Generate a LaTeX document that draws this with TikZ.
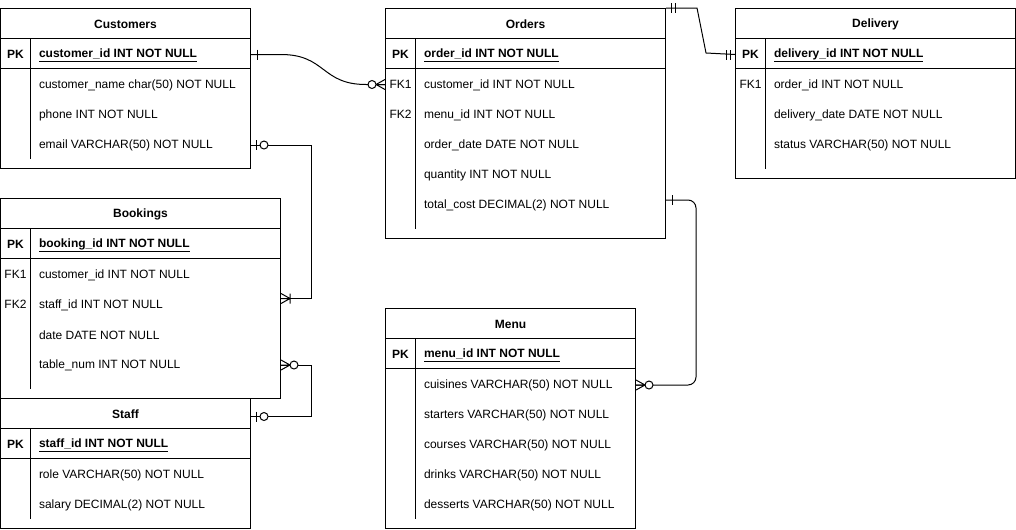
\documentclass[tikz,border=0pt]{standalone}
\usepackage{fontspec}
\setmainfont{Liberation Sans}
\newcommand\pxu{0.75pt}
\newcommand\erfont{\fontsize{9}{11}\selectfont}

\tikzset{
    tbl/.style={draw, rectangle, inner sep=0},
    ttl/.style={font=\erfont\bfseries, yshift=-1*\pxu},
    key/.style={font=\erfont, yshift=-1*\pxu},
    pkey/.style={font=\erfont\bfseries, yshift=-1*\pxu},
    fld/.style={anchor=west, inner sep=0, font=\erfont, yshift=-1.5*\pxu},
    pkfld/.style={fld, font=\erfont\bfseries, yshift=-0.5*\pxu},
    link/.style={draw},
    er one/.pic={\draw (6,-5) -- (6,5);},
    er only one/.pic={\draw (5,-5) -- (5,5) (9,-5) -- (9,5);},
    er zero one/.pic={\draw (5,-5) -- (5,5); \draw[fill=white] (13,0) circle[radius=4];},
    er zero many/.pic={\draw (0,-5) -- (9,0) -- (0,5) (0,0) -- (9,0); \draw[fill=white] (13,0) circle[radius=4];},
    er one many/.pic={\draw (0,-5) -- (9,0) -- (0,5) (0,0) -- (9,0) (9,-5) -- (9,5);}
    }

\begin{document}
\begin{tikzpicture}[x=\pxu, y=-\pxu, line width=\pxu]
    \useasboundingbox (-0.5,-0.5) rectangle (1015.5,528.5);

    % Customers
    \node (cust) [tbl, minimum width=250*\pxu, minimum height=160*\pxu] at (125,88) {};
    \node (cust-t) [ttl] at (125,23) {Customers};
    \draw (0,38) -- (250,38) (0,68) -- (250,68) (30,38) -- (30,158);
    \node (cust-pk-k) [pkey] at (15,53) {PK};
    \node (cust-pk) [pkfld] at (38,53) {\underline{customer\_id INT NOT NULL}};
    \foreach \f [count=\i] in {customer\_name char(50) NOT NULL, phone INT NOT NULL, email VARCHAR(50) NOT NULL}
        \node (cust-\i) [fld] at (38,53+30*\i) {\f};

    % Orders
    \node (ord) [tbl, minimum width=280*\pxu, minimum height=230*\pxu] at (525,123) {};
    \node (ord-t) [ttl] at (525,23) {Orders};
    \draw (385,38) -- (665,38) (385,68) -- (665,68) (415,38) -- (415,228);
    \node (ord-pk-k) [pkey] at (400,53) {PK};
    \node (ord-pk) [pkfld] at (423,53) {\underline{order\_id INT NOT NULL}};
    \node (ord-k1) [key] at (400,83) {FK1};
    \node (ord-k2) [key] at (400,113) {FK2};
    \foreach \f [count=\i] in {customer\_id INT NOT NULL, menu\_id INT NOT NULL, order\_date DATE NOT NULL, quantity INT NOT NULL, total\_cost DECIMAL(2) NOT NULL}
        \node (ord-\i) [fld] at (423,53+30*\i) {\f};

    % Delivery
    \node (dlv) [tbl, minimum width=280*\pxu, minimum height=170*\pxu] at (875,93) {};
    \node (dlv-t) [ttl] at (875,23) {Delivery};
    \draw (735,38) -- (1015,38) (735,68) -- (1015,68) (765,38) -- (765,168);
    \node (dlv-pk-k) [pkey] at (750,53) {PK};
    \node (dlv-pk) [pkfld] at (773,53) {\underline{delivery\_id INT NOT NULL}};
    \node (dlv-k1) [key] at (750,83) {FK1};
    \foreach \f [count=\i] in {order\_id INT NOT NULL, delivery\_date DATE NOT NULL, status VARCHAR(50) NOT NULL}
        \node (dlv-\i) [fld] at (773,53+30*\i) {\f};

    % Bookings
    \node (book) [tbl, minimum width=280*\pxu, minimum height=200*\pxu] at (140,298) {};
    \node (book-t) [ttl] at (140,213) {Bookings};
    \draw (0,228) -- (280,228) (0,258) -- (280,258) (30,228) -- (30,388);
    \node (book-pk-k) [pkey] at (15,243) {PK};
    \node (book-pk) [pkfld] at (38,243) {\underline{booking\_id INT NOT NULL}};
    \node (book-k1) [key] at (15,273) {FK1};
    \node (book-k2) [key] at (15,303) {FK2};
    \foreach \f [count=\i] in {customer\_id INT NOT NULL, staff\_id INT NOT NULL, date DATE NOT NULL, table\_num INT NOT NULL}
        \node (book-\i) [fld] at (38,243+30*\i) {\f};

    % Staff
    \node (staff) [tbl, minimum width=250*\pxu, minimum height=130*\pxu] at (125,463) {};
    \node (staff-t) [ttl] at (125,413) {Staff};
    \draw (0,428) -- (250,428) (0,458) -- (250,458) (30,428) -- (30,518);
    \node (staff-pk-k) [pkey] at (15,443) {PK};
    \node (staff-pk) [pkfld] at (38,443) {\underline{staff\_id INT NOT NULL}};
    \foreach \f [count=\i] in {role VARCHAR(50) NOT NULL, salary DECIMAL(2) NOT NULL}
        \node (staff-\i) [fld] at (38,443+30*\i) {\f};

    % Menu
    \node (menu) [tbl, minimum width=250*\pxu, minimum height=220*\pxu] at (510,418) {};
    \node (menu-t) [ttl] at (510,323) {Menu};
    \draw (385,338) -- (635,338) (385,368) -- (635,368) (415,338) -- (415,518);
    \node (menu-pk-k) [pkey] at (400,353) {PK};
    \node (menu-pk) [pkfld] at (423,353) {\underline{menu\_id INT NOT NULL}};
    \foreach \f [count=\i] in {cuisines VARCHAR(50) NOT NULL, starters VARCHAR(50) NOT NULL, courses VARCHAR(50) NOT NULL, drinks VARCHAR(50) NOT NULL, desserts VARCHAR(50) NOT NULL}
        \node (menu-\i) [fld] at (423,353+30*\i) {\f};

    % relations
    \coordinate (cust-out) at (cust.east |- cust-pk-k);
    \coordinate (ord-in) at (ord.west |- ord-k1);
    \coordinate (cust-email) at (cust.east |- cust-3);
    \coordinate (book-out) at (book.east |- book-4);
    \path (staff.east |- staff-t) ++(0,2) coordinate (staff-in);
    \coordinate (dlv-in) at (dlv.west |- dlv-pk-k);
    \path (ord.east |- ord-5) ++(0,-5) coordinate (ord-out);
    \coordinate (menu-in) at (menu.east |- menu-1);

    \draw[link] (cust-out) -- ++(30,0) .. controls +(45,0) and +(-45,0) .. ++(85,30) -- (ord-in);
    \draw[link] (cust-email) -- ++(60,0) |- (book.east);
    \draw[link] (book-out) -- ++(30,0) |- (staff-in);
    \draw[link] (ord.north east) -- ++(31,0) -- ++(9,45) -- (dlv-in);
    \draw[link, rounded corners=8*\pxu] (ord-out) -- ++(30,0) |- (menu-in);

    \pic at (cust-out) {er one};
    \pic[rotate=180] at (ord-in) {er zero many};
    \pic at (cust-email) {er zero one};
    \pic at (book.east) {er one many};
    \pic at (book-out) {er zero many};
    \pic at (staff-in) {er zero one};
    \pic at (ord.north east) {er only one};
    \pic[rotate=180] at (dlv-in) {er only one};
    \pic at (ord-out) {er one};
    \pic at (menu-in) {er zero many};
\end{tikzpicture}
\end{document}
